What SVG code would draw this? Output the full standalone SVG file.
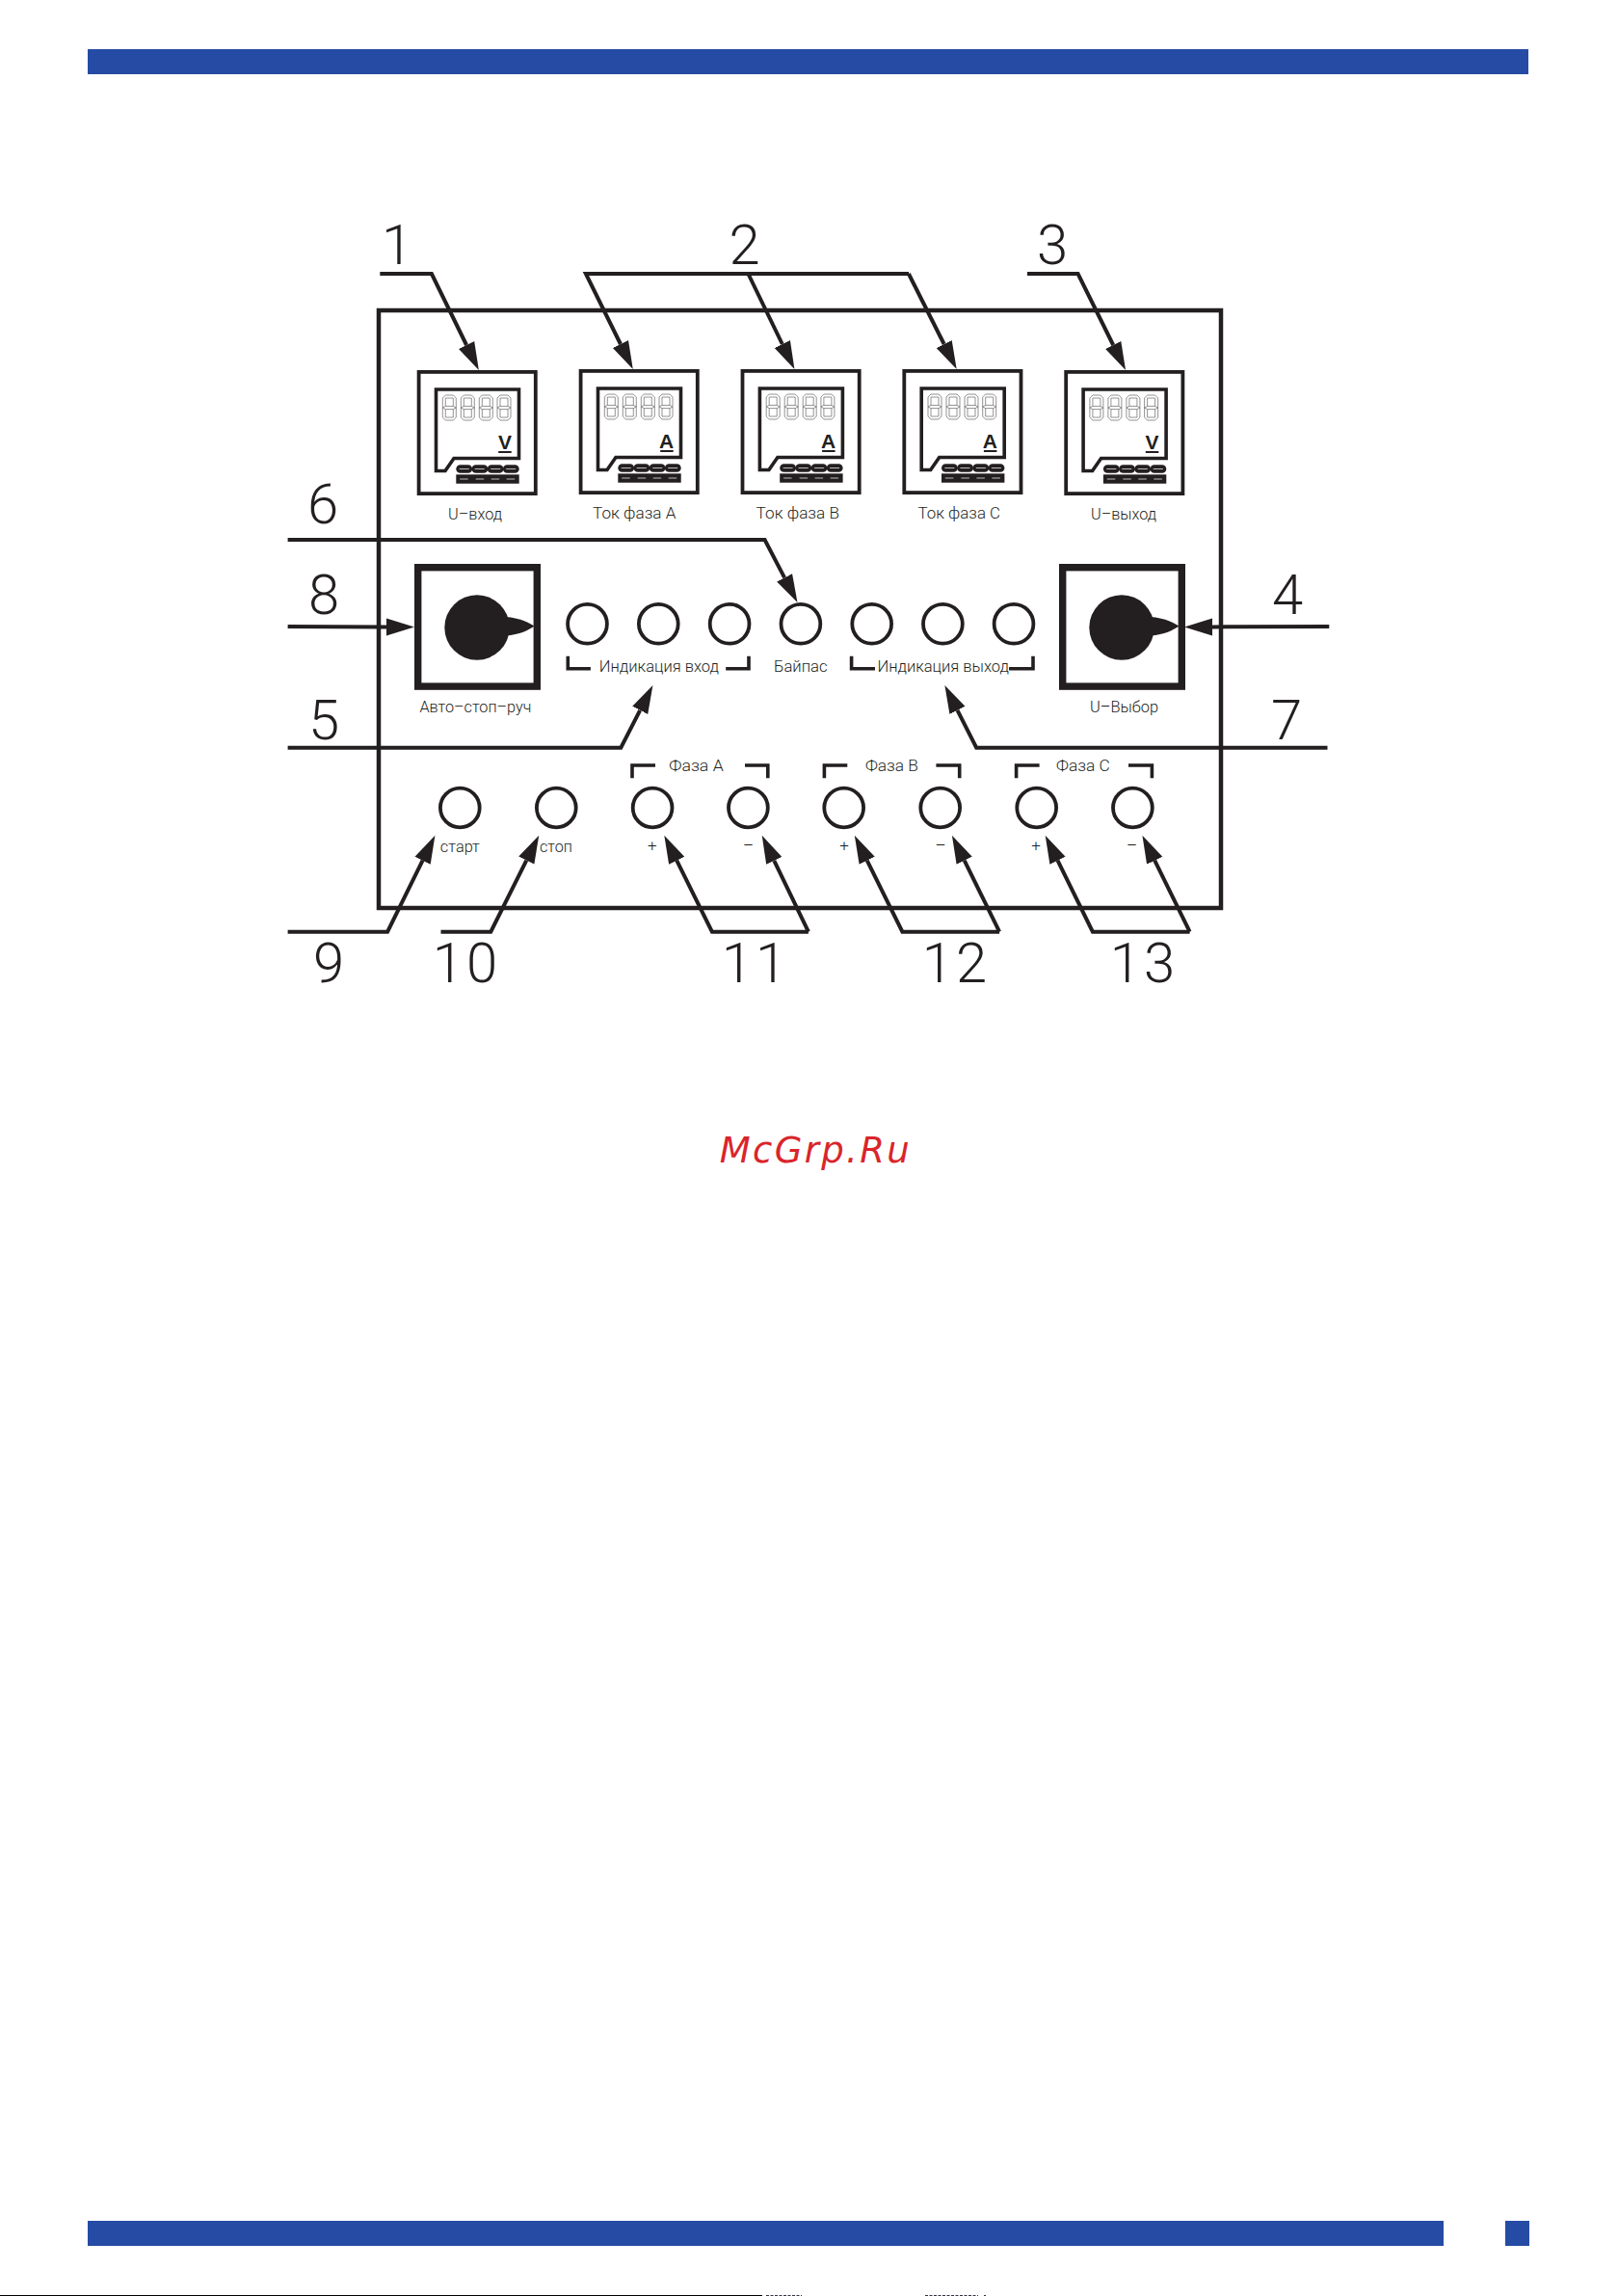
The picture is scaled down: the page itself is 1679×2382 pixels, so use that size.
<svg xmlns="http://www.w3.org/2000/svg" width="1679" height="2382" viewBox="0 0 1679 2382">
<style>
.bar{fill:#254ba4}
.ink{fill:#231f20}
.lead{fill:none;stroke:#231f20;stroke-width:4;stroke-linejoin:miter;marker-end:url(#arrow)}
.led{fill:#fff;stroke:#231f20;stroke-width:3.8}
.brk{fill:none;stroke:#231f20;stroke-width:3.6;stroke-linejoin:miter}
.sw{fill:#fff;stroke:#231f20;stroke-width:7.4}
.num{font-family:"Roboto","Liberation Sans",sans-serif;font-weight:300;font-size:58px;fill:#231f20;text-anchor:middle}
.lbl{font-family:"Roboto","Liberation Sans",sans-serif;font-weight:300;font-size:16px;fill:#231f20}
.sign{font-family:"Roboto","Liberation Sans",sans-serif;font-weight:300;font-size:17px;fill:#231f20;text-anchor:middle}
.unit{font-family:"Liberation Sans",Arial,sans-serif;font-weight:700;font-size:21px;fill:#231f20;text-anchor:middle}
.wm{font-family:"DejaVu Sans",sans-serif;font-style:italic;font-size:37px;fill:#d9252a}
</style>
<defs>
<marker id="arrow" markerUnits="userSpaceOnUse" markerWidth="32" markerHeight="20" viewBox="0 -10 32 20" refX="0" refY="0" orient="auto">
<path d="M0,-9 L29,0 L0,9 Z" fill="#231f20"/>
</marker>
<g id="digit">
<path d="M3,0 H11 L14,3 V23 L11,26 H3 L0,23 V3 Z M3,3 H11 V11.4 H3 Z M3,14.6 H11 V23 H3 Z M0,13 L3,11.4 M14,13 L11,11.4 M0,13 L3,14.6 M14,13 L11,14.6" fill="none" stroke="#666" stroke-width="0.7"/>
</g>
<g id="meter">
<rect x="1.9" y="1.9" width="121.2" height="126.2" fill="#fff" stroke="#231f20" stroke-width="3.8"/>
<path d="M19.8,20 H105.8 V91.5 H38.3 L29.3,104.5 H19.8 Z" fill="#fff" stroke="#231f20" stroke-width="3.6"/>
<use href="#digit" x="26.6" y="26"/><use href="#digit" x="45.6" y="26"/><use href="#digit" x="64.6" y="26"/><use href="#digit" x="83.3" y="26"/>
<rect x="84.5" y="84" width="13.5" height="2" fill="#231f20"/>
<g fill="#231f20">
<rect x="40.6" y="98.2" width="16.8" height="8.6" rx="4.3"/><rect x="56.8" y="98.2" width="16.8" height="8.6" rx="4.3"/><rect x="73" y="98.2" width="16.8" height="8.6" rx="4.3"/><rect x="89.2" y="98.2" width="16.8" height="8.6" rx="4.3"/>
<rect x="40.6" y="108.3" width="65.4" height="9.4"/>
</g>
<path d="M44,102.5 H54 M60,102.5 H70 M76.5,102.5 H86.5 M92.5,102.5 H102.5 M44.5,113 H53 M61,113 H69.5 M77,113 H85.5 M93,113 H101.5" stroke="#bbb" stroke-width="1.2" fill="none"/>
</g>
<g id="knob">
<ellipse cx="0" cy="0" rx="33.7" ry="33.7" class="ink"/>
<path d="M30,-11 C44,-10 54,-5 59.500,-1.500 C54,2.500 44,7.500 30,8.500 Z" class="ink"/>
</g>
</defs>
<rect width="1679" height="2382" fill="#fff"/>
<g id="frame">
<rect class="bar" x="91" y="51" width="1495" height="26"/>
<rect class="bar" x="91" y="2304" width="1407" height="26"/>
<rect class="bar" x="1562" y="2304" width="25" height="26"/>
<rect x="0" y="2381" width="791" height="1" fill="#000"/>
<path d="M795,2381.500H832M960,2381.500H1015M1021,2381.500H1023" stroke="#334" stroke-width="1" stroke-dasharray="3 1.500"/>
</g>
<rect id="panel" x="393" y="322" width="874" height="620" fill="none" stroke="#231f20" stroke-width="4.5"/>

<g id="meter-u-in"><use href="#meter" x="432.700" y="384"/><text class="unit" x="524" y="466">V</text><text class="lbl" x="465" y="539" textLength="56" lengthAdjust="spacingAndGlyphs">U–вход</text></g>
<g id="meter-a"><use href="#meter" x="600.700" y="383"/><text class="unit" x="691.700" y="465">А</text><text class="lbl" x="615" y="538" textLength="86.400" lengthAdjust="spacingAndGlyphs">Ток фаза А</text></g>
<g id="meter-b"><use href="#meter" x="768.600" y="383"/><text class="unit" x="859.600" y="465">А</text><text class="lbl" x="784.600" y="538" textLength="86.400" lengthAdjust="spacingAndGlyphs">Ток фаза В</text></g>
<g id="meter-c"><use href="#meter" x="936.400" y="383"/><text class="unit" x="1027.400" y="465">А</text><text class="lbl" x="952.500" y="538" textLength="85.500" lengthAdjust="spacingAndGlyphs">Ток фаза С</text></g>
<g id="meter-u-out"><use href="#meter" x="1104.300" y="384"/><text class="unit" x="1195.500" y="466">V</text><text class="lbl" x="1132" y="539" textLength="68" lengthAdjust="spacingAndGlyphs">U–выход</text></g>

<g id="switch-mode"><rect class="sw" x="433.700" y="588.700" width="123.600" height="123.400"/><use href="#knob" x="495" y="651"/><text class="lbl" x="435.400" y="739" textLength="116" lengthAdjust="spacingAndGlyphs">Авто–стоп–руч</text></g>
<g id="switch-u"><rect class="sw" x="1102.700" y="588.700" width="123.600" height="123.400"/><use href="#knob" x="1164" y="651"/><text class="lbl" x="1131" y="739" textLength="71" lengthAdjust="spacingAndGlyphs">U–Выбор</text></g>

<g id="leds-in"><circle class="led" cx="609.500" cy="647.300" r="20.400"/><circle class="led" cx="683.300" cy="647.300" r="20.400"/><circle class="led" cx="757.100" cy="647.300" r="20.400"/><path class="brk" d="M589.300,680.700V693.700H612.900M777,680.700V693.700H753.200"/><text class="lbl" x="621.800" y="697" textLength="124.200" lengthAdjust="spacingAndGlyphs">Индикация вход</text></g>
<g id="led-bypass"><circle class="led" cx="830.900" cy="647.300" r="20.400"/><text class="lbl" x="803" y="697" textLength="55.600" lengthAdjust="spacingAndGlyphs">Байпас</text></g>
<g id="leds-out"><circle class="led" cx="904.700" cy="647.300" r="20.400"/><circle class="led" cx="978.400" cy="647.300" r="20.400"/><circle class="led" cx="1052" cy="647.300" r="20.400"/><path class="brk" d="M883.600,680.700V693.700H908M1072,680.700V693.700H1047"/><text class="lbl" x="910.400" y="697" textLength="136.600" lengthAdjust="spacingAndGlyphs">Индикация выход</text></g>

<g id="btn-start"><circle class="led" cx="477.300" cy="838" r="20.400"/><text class="lbl" x="456.800" y="884" textLength="41.100" lengthAdjust="spacingAndGlyphs">старт</text></g>
<g id="btn-stop"><circle class="led" cx="577.300" cy="838" r="20.400"/><text class="lbl" x="560" y="884" textLength="34" lengthAdjust="spacingAndGlyphs">стоп</text></g>
<g id="phase-a"><circle class="led" cx="677.100" cy="838" r="20.400"/><circle class="led" cx="776.400" cy="838" r="20.400"/><path class="brk" d="M656,807.300V794H680M796.800,807.300V794H773"/><text class="lbl" x="694.300" y="800" textLength="56.400" lengthAdjust="spacingAndGlyphs">Фаза А</text><text class="sign" x="676.800" y="883">+</text><text class="sign" x="776.600" y="883">–</text></g>
<g id="phase-b"><circle class="led" cx="875.700" cy="838" r="20.400"/><circle class="led" cx="975.700" cy="838" r="20.400"/><path class="brk" d="M855.400,807.300V794H879.300M995.700,807.300V794H971.400"/><text class="lbl" x="897.900" y="800" textLength="55.100" lengthAdjust="spacingAndGlyphs">Фаза В</text><text class="sign" x="876" y="883">+</text><text class="sign" x="976" y="883">–</text></g>
<g id="phase-c"><circle class="led" cx="1075.700" cy="838" r="20.400"/><circle class="led" cx="1175.400" cy="838" r="20.400"/><path class="brk" d="M1054.600,807.300V794H1078.600M1195.400,807.300V794H1171"/><text class="lbl" x="1096" y="800" textLength="55.800" lengthAdjust="spacingAndGlyphs">Фаза С</text><text class="sign" x="1075" y="883">+</text><text class="sign" x="1174.600" y="883">–</text></g>

<g id="connectors">
<path class="lead" d="M394.300,284H447.900L484.100,358"/>
<path class="lead" d="M943,284H607.900L643.950,357"/>
<path class="lead" d="M776.400,284L811.800,357"/>
<path class="lead" d="M942.900,284L979.650,357"/>
<path class="lead" d="M1066,284H1118.600L1155.200,358"/>
<path class="lead" d="M298.600,560H793.600L814.100,599.300"/>
<path class="lead" d="M298.600,650L401,650.400"/>
<path class="lead" d="M1379.300,650L1258,650.400"/>
<path class="lead" d="M298.600,775.700H644.300L664.200,736.800"/>
<path class="lead" d="M1377.500,775.700H1013.200L993.500,736.900"/>
<path class="lead" d="M298.600,966.700H402.100L438.600,892.700"/>
<path class="lead" d="M457.500,966.700H509.300L546.300,892.600"/>
<path class="lead" d="M838.900,966.700H738.900L702.200,892.700"/>
<path class="lead" d="M838.900,966.700L803.300,892.800"/>
<path class="lead" d="M1037.100,966.700H936.400L899.700,892.700"/>
<path class="lead" d="M1037.100,966.700L1000.700,892.700"/>
<path class="lead" d="M1234.600,966.700H1133.900L1097.500,892.700"/>
<path class="lead" d="M1234.600,966.700L1198.200,892.700"/>
</g>

<g id="callouts">
<text class="num" x="412" y="274">1</text>
<text class="num" x="772.500" y="274">2</text>
<text class="num" x="1092" y="274">3</text>
<text class="num" x="1336" y="637">4</text>
<text class="num" x="336" y="767">5</text>
<text class="num" x="335" y="542.700">6</text>
<text class="num" x="1335" y="767">7</text>
<text class="num" x="336" y="637">8</text>
<text class="num" x="341" y="1019">9</text>
<text class="num" x="484" y="1019" letter-spacing="3">10</text>
<text class="num" x="784" y="1019" letter-spacing="3">11</text>
<text class="num" x="992" y="1019" letter-spacing="3">12</text>
<text class="num" x="1187" y="1019" letter-spacing="3">13</text>
</g>
<text id="watermark" class="wm" x="746.700" y="1206" textLength="197" lengthAdjust="spacing">McGrp.Ru</text>
</svg>
